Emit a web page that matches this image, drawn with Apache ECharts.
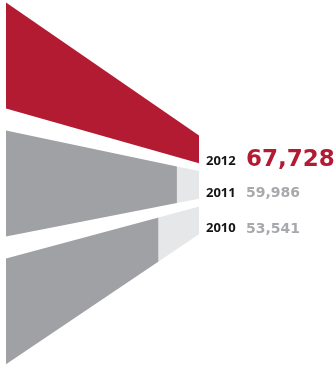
<!DOCTYPE html>
<html>
<head>
<meta charset="utf-8">
<script src="https://cdn.jsdelivr.net/npm/echarts@6/dist/echarts.min.js"></script>
<style>html,body{margin:0;padding:0;background:#fff}#c{width:334px;height:367px}</style>
</head>
<body>
<div id="c"></div>
<script>
const years = ['2012', '2011', '2010'];
const values = [67728, 59986, 53541];
const valueLabels = ['67,728', '59,986', '53,541'];

const MAXV = Math.max.apply(null, values);
const RED = '#b31b32', DARK = '#a0a1a4', LIGHT = '#e6e7e8';

const chart = echarts.init(document.getElementById('c'));
const data = values.map((v, i) => [v, i]);

function renderItem(params, api) {
  const v = api.value(0), idx = api.value(1);
  const left = api.coord([0, idx]);
  const band = api.size([0, 1])[1];
  const midY = api.coord([0, 1])[1] + band * 0.016;
  const x0 = left[0];
  const cL = midY + (left[1] - midY) * 1.046;
  const xR = api.coord([MAXV, idx])[0];
  const xV = api.coord([v, idx])[0];
  const hL = band * 0.433, hR = band * 0.113;
  const cR = midY + (left[1] - midY) * 0.29;
  const topAt = x => (cL - hL) + ((cR - hR) - (cL - hL)) * (x - x0) / (xR - x0);
  const botAt = x => (cL + hL) + ((cR + hR) - (cL + hL)) * (x - x0) / (xR - x0);
  const isMax = v >= MAXV;
  const children = [];
  children.push({
    type: 'polygon',
    shape: { points: [[x0, topAt(x0)], [xV, topAt(xV)], [xV, botAt(xV)], [x0, botAt(x0)]] },
    style: { fill: isMax ? RED : DARK }
  });
  if (!isMax) {
    children.push({
      type: 'polygon',
      shape: { points: [[xV, topAt(xV)], [xR, topAt(xR)], [xR, botAt(xR)], [xV, botAt(xV)]] },
      style: { fill: LIGHT }
    });
  }
  const yb = cR + hR + (isMax ? 5 : 1);
  children.push({
    type: 'text',
    x: xR + 7, y: yb,
    style: { text: years[idx], fill: '#141414', font: 'bold 13px "Open Sans"', verticalAlign: 'bottom', align: 'left' }
  });
  children.push({
    type: 'text',
    x: xR + 47, y: yb + (isMax ? 3 : 1),
    style: { text: valueLabels[idx], fill: isMax ? RED : '#a7a9ac', font: isMax ? 'bold 23px "DejaVu Sans"' : 'bold 14px "DejaVu Sans"', verticalAlign: 'bottom', align: 'left' }
  });
  return { type: 'group', children: children };
}

chart.setOption({
  animation: false,
  grid: { left: 6, right: 135, top: 0, bottom: 0 },
  xAxis: { type: 'value', min: 0, max: MAXV, show: false },
  yAxis: { type: 'category', data: years, inverse: true, show: false },
  series: [{ type: 'custom', renderItem: renderItem, data: data, clip: false }]
});
</script>
</body>
</html>
